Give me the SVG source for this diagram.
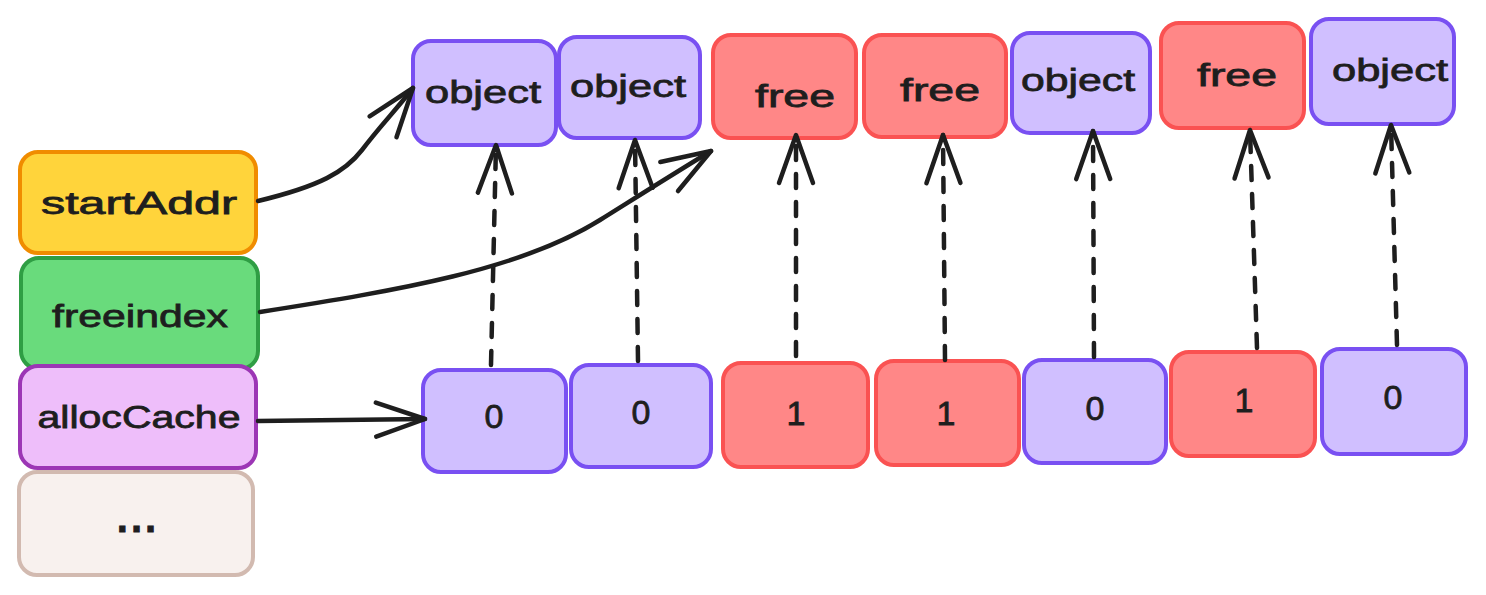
<svg xmlns="http://www.w3.org/2000/svg" width="1486" height="595" viewBox="0 0 1486 595">
<style>
.box{stroke-width:4;stroke-linejoin:round}
.obj{fill:#d0bfff;stroke:#7950f2}
.free{fill:#ff8787;stroke:#fa5252}
.t{font-family:"Liberation Sans",Arial,sans-serif;fill:#1e1e1e;stroke:#1e1e1e;stroke-width:0.8;text-anchor:middle;dominant-baseline:central}
.lbl{font-size:32px}
.dig{font-size:34px}
.dots{font-size:40px;font-weight:bold;letter-spacing:3px}
.conn{fill:none;stroke:#1e1e1e;stroke-width:4.5;stroke-linecap:round}
.dash{stroke-dasharray:14 14}
</style>
<defs>
<marker id="ah" markerUnits="userSpaceOnUse" markerWidth="60" markerHeight="40" refX="50" refY="20" orient="auto" overflow="visible">
<path d="M1,3 L50,20 L1,37" fill="none" stroke="#1e1e1e" stroke-width="4.5" stroke-linecap="round" stroke-linejoin="round"/>
</marker>
<marker id="au" markerUnits="userSpaceOnUse" markerWidth="60" markerHeight="40" refX="50" refY="20" orient="auto" overflow="visible">
<path d="M2,3 L50,20 L2,37" fill="none" stroke="#1e1e1e" stroke-width="4.5" stroke-linecap="round" stroke-linejoin="round"/>
</marker>
</defs>

<g id="startAddr"><rect class="box" x="20" y="152" width="236" height="101" rx="18" fill="#ffd43b" stroke="#f08c00"/><text class="t lbl" x="139" y="203" textLength="196" lengthAdjust="spacingAndGlyphs">startAddr</text></g>
<g id="freeindex"><rect class="box" x="21" y="258" width="237" height="111" rx="18" fill="#69db7c" stroke="#2f9e44"/><text class="t lbl" x="140" y="316" textLength="176" lengthAdjust="spacingAndGlyphs">freeindex</text></g>
<g id="allocCache"><rect class="box" x="20" y="366" width="236" height="102" rx="18" fill="#eebefa" stroke="#9c36b5"/><text class="t lbl" x="139" y="417" textLength="203" lengthAdjust="spacingAndGlyphs">allocCache</text></g>
<g id="more"><rect class="box" x="19" y="472" width="234" height="103" rx="18" fill="#f8f1ee" stroke="#d2bab0"/><text class="t dots" x="138" y="518">...</text></g>

<g id="obj1"><rect class="box obj" x="413" y="41" width="143" height="104" rx="18"/><text class="t lbl" x="483" y="92" textLength="116" lengthAdjust="spacingAndGlyphs">object</text></g>
<g id="obj2"><rect class="box obj" x="559" y="37" width="141" height="101" rx="18"/><text class="t lbl" x="628" y="86" textLength="116" lengthAdjust="spacingAndGlyphs">object</text></g>
<g id="free1"><rect class="box free" x="713" y="35" width="143" height="103" rx="18"/><text class="t lbl" x="795" y="96" textLength="80" lengthAdjust="spacingAndGlyphs">free</text></g>
<g id="free2"><rect class="box free" x="864" y="35" width="142" height="102" rx="18"/><text class="t lbl" x="940" y="90" textLength="80" lengthAdjust="spacingAndGlyphs">free</text></g>
<g id="obj3"><rect class="box obj" x="1012" y="33" width="138" height="100" rx="18"/><text class="t lbl" x="1078" y="80" textLength="114" lengthAdjust="spacingAndGlyphs">object</text></g>
<g id="free3"><rect class="box free" x="1161" y="23" width="143" height="105" rx="18"/><text class="t lbl" x="1237" y="75" textLength="80" lengthAdjust="spacingAndGlyphs">free</text></g>
<g id="obj4"><rect class="box obj" x="1311" y="19" width="143" height="105" rx="18"/><text class="t lbl" x="1390" y="70" textLength="116" lengthAdjust="spacingAndGlyphs">object</text></g>

<g id="bit1"><rect class="box obj" x="423" y="370" width="143" height="102" rx="18"/><text class="t dig" x="494" y="416">0</text></g>
<g id="bit2"><rect class="box obj" x="571" y="365" width="140" height="102" rx="18"/><text class="t dig" x="641" y="412">0</text></g>
<g id="bit3"><rect class="box free" x="723" y="363" width="145" height="104" rx="18"/><text class="t dig" x="796" y="413">1</text></g>
<g id="bit4"><rect class="box free" x="876" y="361" width="143" height="104" rx="18"/><text class="t dig" x="946" y="413">1</text></g>
<g id="bit5"><rect class="box obj" x="1024" y="360" width="142" height="103" rx="18"/><text class="t dig" x="1095" y="408">0</text></g>
<g id="bit6"><rect class="box free" x="1171" y="352" width="144" height="104" rx="18"/><text class="t dig" x="1244" y="400">1</text></g>
<g id="bit7"><rect class="box obj" x="1322" y="349" width="144" height="105" rx="18"/><text class="t dig" x="1393" y="397">0</text></g>

<g id="connectors">
<path class="conn" d="M258,201 C320,186 345,172 362,150 C380,126 396,110 413,88" marker-end="url(#ah)"/>
<path class="conn" d="M260,312 C400,290 520,270 600,220 C640,195 670,176 711,151" marker-end="url(#ah)"/>
<path class="conn" d="M258,421 L425,419" marker-end="url(#ah)"/>
<path class="conn dash" d="M491,365 L496,145" marker-end="url(#au)"/>
<path class="conn dash" d="M638,361 L635,140" marker-end="url(#au)"/>
<path class="conn dash" d="M796,356 L796,135" marker-end="url(#au)"/>
<path class="conn dash" d="M945,360 L943,135" marker-end="url(#au)"/>
<path class="conn dash" d="M1094,357 L1093,131" marker-end="url(#au)"/>
<path class="conn dash" d="M1257,348 L1250,130" marker-end="url(#au)"/>
<path class="conn dash" d="M1397,345 L1391,125" marker-end="url(#au)"/>
</g>
</svg>
